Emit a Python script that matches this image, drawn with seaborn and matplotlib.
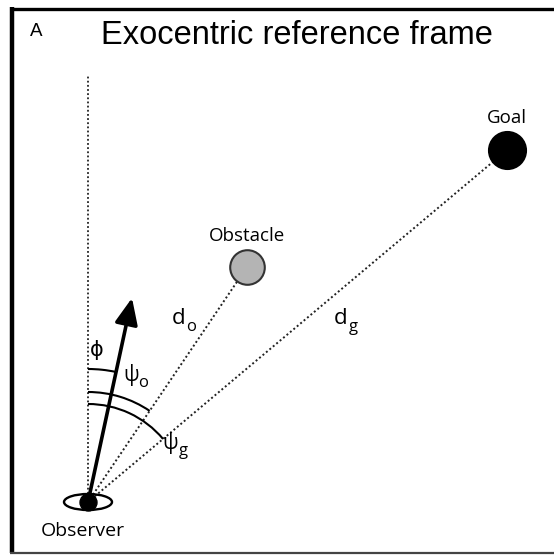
import numpy as np
import pandas as pd
import matplotlib.pyplot as plt
from matplotlib.patches import Arc, Ellipse
import seaborn as sns

# positions in picture pixels (x right, y down)
names = ["Observer", "Obstacle", "Goal"]
pos_x = [88, 247, 507]
pos_y = [502, 267, 150]
heading = [132, 298]          # tip of the observer's heading arrow
arc_radius = {"phi": 133, "psi_o": 110, "psi_g": 98}

sns.set_style("white")
plt.rcParams['font.family'] = ['Open Sans', 'DejaVu Sans']
plt.rcParams['text.color'] = 'black'

fig = plt.figure(figsize=(5.54, 5.59), dpi=100)
ax = fig.add_axes([0, 0, 1, 1])
ax.set_xlim(0, 554)
ax.set_ylim(559, 0)
ax.axis("off")

# panel frame
ax.plot([12, 12], [7, 553], color="black", lw=3.2, solid_capstyle="butt")
ax.plot([10, 554], [8.5, 8.5], color="black", lw=2.4, solid_capstyle="butt")
ax.plot([10, 554], [552.5, 552.5], color="#444444", lw=1.6, solid_capstyle="butt")

ox, oy = pos_x[0], pos_y[0]

# dotted reference line and sight lines
dot = (0, (1, 1.3))
ax.plot([ox, ox], [oy, 75], color="#222222", lw=1.3, ls=dot)
for gx, gy in zip(pos_x[1:], pos_y[1:]):
    ax.plot([ox, gx], [oy, gy], color="#222222", lw=1.4, ls=dot, zorder=2)

df = pd.DataFrame({"name": names, "x": pos_x, "y": pos_y})
sns.scatterplot(data=df[df.name == "Obstacle"], x="x", y="y", s=620,
                color="#b4b4b4", edgecolor="#333333", linewidth=1.5, ax=ax, zorder=4)
sns.scatterplot(data=df[df.name == "Goal"], x="x", y="y", s=680,
                color="black", edgecolor="black", ax=ax, zorder=4)

# observer: eye-like ellipse with dark centre
ax.add_patch(Ellipse((ox, oy), 48, 16, fill=False, ec="black", lw=1.7, zorder=5))
sns.scatterplot(data=df[df.name == "Observer"], x="x", y="y", s=150,
                color="black", edgecolor="black", ax=ax, zorder=6)

# heading arrow
ax.annotate("", xy=heading, xytext=(ox, oy),
            arrowprops=dict(arrowstyle="-|>,head_length=1.6,head_width=0.7",
                            color="black", lw=2.6, shrinkA=0, shrinkB=0), zorder=5)


def ang(px, py):
    return np.degrees(np.arctan2(py - oy, px - ox))


up = -90
for key, end in [("phi", heading), ("psi_o", (pos_x[1], pos_y[1])),
                 ("psi_g", (pos_x[2], pos_y[2]))]:
    r = arc_radius[key]
    ax.add_patch(Arc((ox, oy), 2 * r, 2 * r, theta1=up, theta2=ang(*end),
                     color="black", lw=1.5, zorder=3))

# labels
sans = ["Liberation Sans", "DejaVu Sans"]
ax.text(36, 31, "A", fontsize=13.5, ha="center", va="center", family=sans)
ax.text(297, 35, "Exocentric reference frame", fontsize=23.5, ha="center",
        va="center", family=sans)
ax.text(247, 236, "Obstacle", fontsize=13.5, ha="center", va="center")
ax.text(507, 118, "Goal", fontsize=13.5, ha="center", va="center")
ax.text(83, 531, "Observer", fontsize=14, ha="center", va="center")

ax.text(97, 351, "ϕ", fontsize=15, ha="center", va="center")
ax.text(131, 375, "ψ", fontsize=15, ha="center", va="center")
ax.text(143, 383, "o", fontsize=12, ha="center", va="center")
ax.text(170, 443, "ψ", fontsize=15, ha="center", va="center")
ax.text(183, 451, "g", fontsize=12, ha="center", va="center")
ax.text(179, 319, "d", fontsize=16, ha="center", va="center")
ax.text(191, 327, "o", fontsize=12, ha="center", va="center")
ax.text(341, 319, "d", fontsize=16, ha="center", va="center")
ax.text(353, 327, "g", fontsize=12, ha="center", va="center")

fig.savefig("out.png", dpi=100, facecolor="white")
